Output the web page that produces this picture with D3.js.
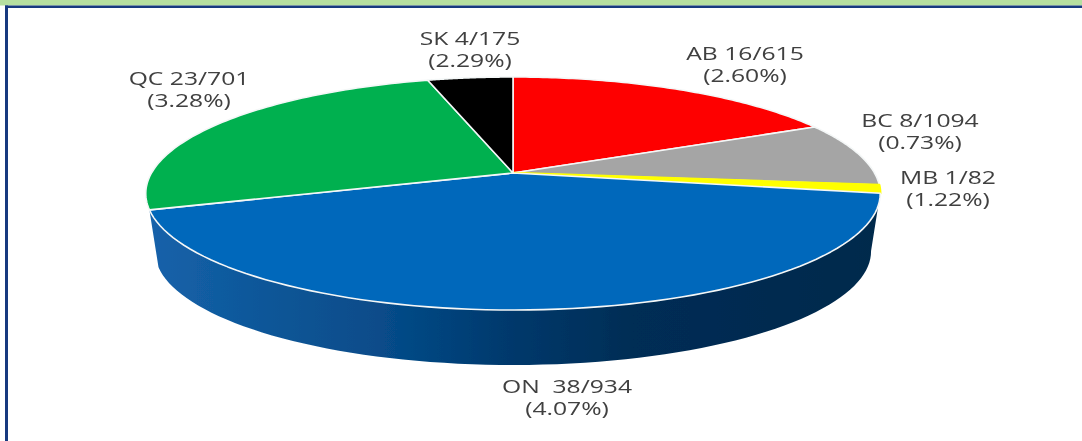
<!DOCTYPE html>
<html>
<head>
<meta charset="utf-8">
<script src="https://cdn.jsdelivr.net/npm/d3@7"></script>
<style>
html,body{margin:0;padding:0;background:#fff;overflow:hidden}
svg{display:block}
text{font-family:"Open Sans",sans-serif;font-size:17.5px;fill:#404040;white-space:pre;text-anchor:middle}
</style>
</head>
<body>
<svg id="c" width="1082" height="441"></svg>
<script>
// Data
const regions = ["AB","BC","MB","ON","QC","SK"];
const cases   = [16,8,1,38,23,4];
const totals  = [615,1094,82,934,701,175];
const rates   = ["2.60%","0.73%","1.22%","4.07%","3.28%","2.29%"];
const colors  = ["#fe0000","#a5a5a5","#ffff00","#0468bb","#00b04f","#000000"];

// Label placement, separate from the data: [centre x, first baseline y]
const labelAt = [[745,60],[920,127],[948,184],[567,393],[189,85],[470,45]];
const labelStretch = 1.41;

const svg = d3.select("#c");
const defs = svg.append("defs");
const W = 1082, H = 441;

// Perspective projection of the unit disc
const cx = 513, cy = 173, A = 361.5, B = 112.9, q = 0.176;
const rimScale = 0.975, rimDrop = 58.4;
function project(angle, scale = 1, drop = 0) {
  const u = Math.sin(angle), v = -Math.cos(angle), w = 1 - q * v;
  return [cx + scale * A * u / w, cy + drop + scale * B * v / w];
}
const arcPts = (a0, a1, scale, drop) =>
  d3.range(0, 81).map(i => project(a0 + (a1 - a0) * i / 80, scale, drop));

const line = d3.line();
const pie = d3.pie().sort(null).value(d => d);
const arcs = pie(cases);

// Soft focus, as in the reference scan
defs.append("filter").attr("id", "soft").append("feGaussianBlur").attr("stdDeviation", 0.4);

// Frame
svg.append("rect").attr("x", 0).attr("y", 0).attr("width", W).attr("height", 5.5).attr("fill", "#b6dfa0");
svg.append("rect").attr("x", 5).attr("y", 5.5).attr("width", W - 5).attr("height", 2.5).attr("fill", "#17397f");
svg.append("rect").attr("x", 5).attr("y", 5.5).attr("width", 3).attr("height", H).attr("fill", "#17397f");

// Side wall of the ON slice
const grad = defs.append("linearGradient").attr("id", "wall")
  .attr("gradientUnits", "userSpaceOnUse").attr("x1", 150).attr("x2", 880).attr("y1", 0).attr("y2", 0);
[[0,"#1462aa"],[0.18,"#0e5596"],[0.34,"#064a87"],[0.48,"#013a6e"],[0.66,"#012d55"],[1,"#02294c"]]
  .forEach(([o,c]) => grad.append("stop").attr("offset", o).attr("stop-color", c));

const chart = svg.append("g").attr("filter", "url(#soft)");

const on = arcs[regions.indexOf("ON")];
chart.append("path")
  .attr("d", line([
    ...arcPts(on.startAngle, on.endAngle, 1, 0),
    ...arcPts(on.endAngle, on.startAngle, rimScale, rimDrop)
  ]) + "Z")
  .attr("fill", "url(#wall)");

// Top face
chart.append("g").selectAll("path").data(arcs).join("path")
  .attr("d", d => line([[cx, cy], ...arcPts(d.startAngle, d.endAngle, 1, 0)]) + "Z")
  .attr("fill", (d, i) => colors[i])
  .attr("stroke", (d, i) => regions[i] === "MB" ? colors[i] : "#f4f7f7")
  .attr("stroke-width", (d, i) => regions[i] === "MB" ? 2.4 : 1.6)
  .attr("stroke-linejoin", "round");

// Labels
const labels = svg.append("g").attr("filter", "url(#soft)").selectAll("text").data(regions).join("text")
  .attr("transform", (d, i) => `translate(${labelAt[i][0]},${labelAt[i][1]}) scale(${labelStretch},1)`);
labels.append("tspan").attr("x", 0).attr("y", 0)
  .text((d, i) => `${d}${d === "ON" ? "  " : " "}${cases[i]}/${totals[i]}`);
labels.append("tspan").attr("x", 0).attr("y", 22.5)
  .text((d, i) => `(${rates[i]})`);
</script>
</body>
</html>
